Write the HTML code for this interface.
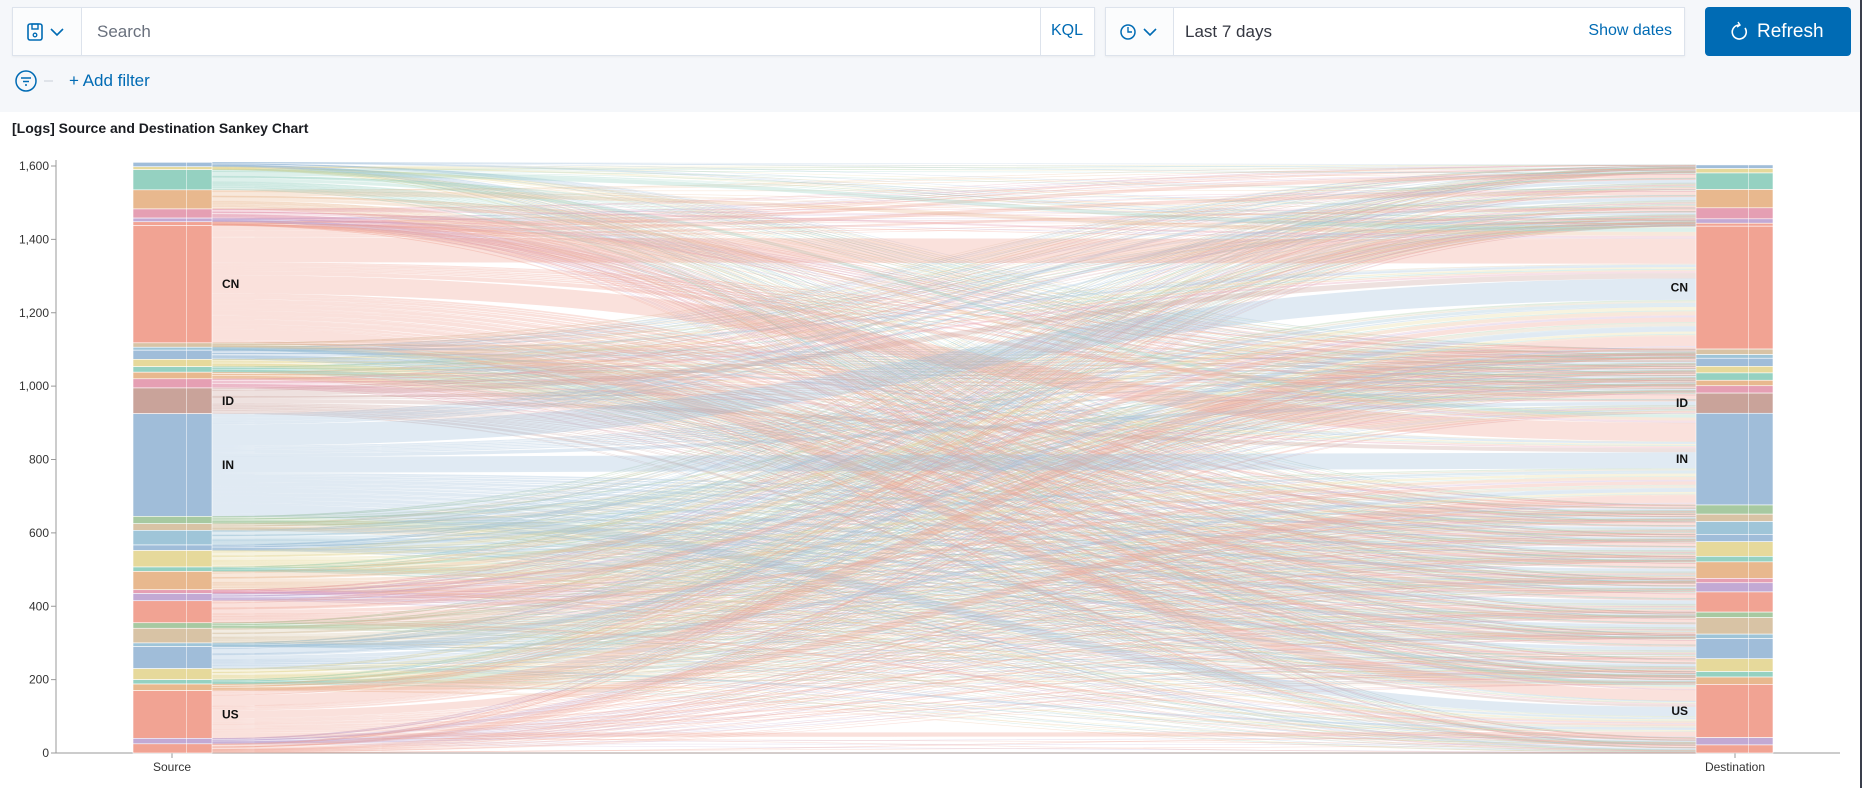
<!DOCTYPE html>
<html><head><meta charset="utf-8">
<style>
html,body{margin:0;padding:0;width:1862px;height:788px;overflow:hidden;background:#fff;font-family:"Liberation Sans",sans-serif}
.top{position:absolute;left:0;top:0;width:1862px;height:112px;background:#f5f7fa}
.box{position:absolute;background:#fff;border:1px solid #dde3ec;box-sizing:border-box;box-shadow:0 1px 2px rgba(0,0,0,.05)}
.t{position:absolute;white-space:nowrap}
</style></head><body>
<div class="top"></div>
<div class="box" style="left:12px;top:7px;width:1083px;height:49px">
  <div style="position:absolute;left:0;top:0;width:68px;height:47px;border-right:1px solid #dde3ec;background:#fbfcfd">
    <svg width="68" height="47"><rect x="15" y="16" width="14" height="16" rx="2" fill="none" stroke="#006bb4" stroke-width="1.6"/><rect x="19" y="16" width="6" height="5" fill="none" stroke="#006bb4" stroke-width="1.4"/><circle cx="22" cy="27" r="1.8" fill="none" stroke="#006bb4" stroke-width="1.3"/><path d="M38 21 L44 27 L50 21" fill="none" stroke="#006bb4" stroke-width="1.6"/></svg>
  </div>
  <div class="t" style="left:84px;top:14px;font-size:17px;color:#69707d">Search</div>
  <div style="position:absolute;left:1027px;top:0;width:1px;height:47px;background:#dde3ec"></div>
  <div class="t" style="left:1038px;top:14px;font-size:16px;color:#006bb4">KQL</div>
</div>
<div class="box" style="left:1105px;top:7px;width:580px;height:49px">
  <div style="position:absolute;left:0;top:0;width:67px;height:47px;border-right:1px solid #dde3ec;background:#fbfcfd">
    <svg width="67" height="47"><circle cx="22" cy="24" r="7" fill="none" stroke="#006bb4" stroke-width="1.5"/><path d="M22 19 V24 H26" fill="none" stroke="#006bb4" stroke-width="1.4"/><path d="M38 21 L44 27 L50 21" fill="none" stroke="#006bb4" stroke-width="1.6"/></svg>
  </div>
  <div class="t" style="left:79px;top:14px;font-size:17px;color:#343741">Last 7 days</div>
  <div class="t" style="right:12px;top:14px;font-size:16px;color:#006bb4">Show dates</div>
</div>
<div style="position:absolute;left:1705px;top:7px;width:146px;height:49px;background:#006bb4;border-radius:4px">
  <svg width="40" height="49" style="position:absolute;left:18px;top:0"><path d="M16 18 A7 7 0 1 0 22 21" fill="none" stroke="#fff" stroke-width="1.6"/><path d="M15 15 L17 18 L14 20" fill="none" stroke="#fff" stroke-width="1.4"/></svg>
  <div class="t" style="left:52px;top:14px;font-size:19px;color:#fff">Refresh</div>
</div>
<svg style="position:absolute;left:14px;top:69px" width="40" height="24"><circle cx="12" cy="12" r="10" fill="none" stroke="#006bb4" stroke-width="1.5"/><path d="M7 9H17M9 12.5H15M11 16H13" stroke="#006bb4" stroke-width="1.5"/><path d="M30 12H39" stroke="#c9cfd8" stroke-width="1"/></svg>
<div class="t" style="left:69px;top:71px;font-size:17px;color:#006bb4">+ Add filter</div>
<div class="t" style="left:12px;top:120px;font-size:14px;font-weight:bold;color:#1a1c21">[Logs] Source and Destination Sankey Chart</div>
<div style="position:absolute;left:1860px;top:0;width:2px;height:788px;background:#3a3f4c"></div>
<svg id="chart" style="position:absolute;left:0;top:0" width="1862" height="788"></svg>
<script>
const countries=["AR","AU","BD","BR","CA","CH","CL","CN","CO","CZ","DE","EG","ES","FR","GB","ID","IN","IR","IT","JP","KR","MX","MY","NG","NL","PH","PK","PL","RU","SA","TH","TR","TW","UA","US","VN","ZA"];
const sourceValues=[12,8,55,52,25,10,10,320,12,8,25,20,15,18,25,70,280,20,18,40,15,45,12,50,10,20,60,15,40,10,60,30,12,18,130,15,25];
const destValues=[10,12,45,50,30,12,8,335,15,10,22,18,20,15,20,55,250,25,20,35,20,40,15,45,12,25,55,15,45,12,55,35,15,20,145,20,22];
const yTicks=[0,200,400,600,800,1000,1200,1400,1600];
const labeled=["CN","ID","IN","US"];
const palette={CN:"#f1a393",US:"#f1a393",IN:"#a0bdd9",ID:"#c9a39a"};
const cyc=["#a0bdd9","#e6d99b","#95d1c1","#e8b88e","#e59fb3","#c2a9d4","#f1a393","#a7c9a1","#d8c3a5","#9fc5d8"];
const NS="http://www.w3.org/2000/svg";
const svg=document.getElementById("chart");
const Y0=753,Y1600=166,XA=56,XR=1840;
const y=v=>Y0-(v/1600)*(Y0-Y1600);
const k=(Y0-Y1600)/1600;
const SX0=133,SX1=212,DX0=1696,DX1=1773;
function mk(t,a){const e=document.createElementNS(NS,t);for(const n in a)e.setAttribute(n,a[n]);svg.appendChild(e);return e;}
const color=i=>palette[countries[i]]||cyc[i%cyc.length];
const ax=mk("line",{x1:XA,y1:Y1600-6,x2:XA,y2:Y0,stroke:"#999","stroke-width":1});


const bx=mk("line",{x1:XA,y1:Y0,x2:XR,y2:Y0,stroke:"#999","stroke-width":1});


yTicks.forEach(v=>{
  mk("line",{x1:XA-5,y1:y(v),x2:XA,y2:y(v),stroke:"#999"});
  const t=mk("text",{x:XA-7,y:y(v)+4,"text-anchor":"end","font-size":12,fill:"#333","font-family":"Liberation Sans"});
  t.textContent=v.toLocaleString("en-US");
  
  
});
[[172,"Source"],[1735,"Destination"]].forEach(([x,s])=>{
  mk("line",{x1:x,y1:Y0,x2:x,y2:Y0+5,stroke:"#999"});
  const t=mk("text",{x:x,y:Y0+18,"text-anchor":"middle","font-size":12,fill:"#333","font-family":"Liberation Sans"});
  t.textContent=s;
  
  
});
const sTot=sourceValues.reduce((a,b)=>a+b,0), dTot=destValues.reduce((a,b)=>a+b,0);
const sTop=[],dTop=[];
let acc=sTot;sourceValues.forEach((v,i)=>{sTop[i]=y(acc);acc-=v;});
acc=dTot;destValues.forEach((v,i)=>{dTop[i]=y(acc);acc-=v;});
const sOff=sTop.slice(),dOff=dTop.slice();
const links=[];
sourceValues.forEach((sv,i)=>{destValues.forEach((dv,j)=>{links.push({i,j,v:sv*dv/dTot});});});
links.forEach(l=>{l.w=l.v*k;l.sy=sOff[l.i]+l.w/2;sOff[l.i]+=l.w;});
const inflow=destValues.map((dv,j)=>sourceValues.reduce((a,s)=>a+s*dv/dTot,0));
links.forEach(l=>{l.dw=l.v*(destValues[l.j]/inflow[l.j])*k;});
links.forEach(l=>{l.ty=dOff[l.j]+l.dw/2;dOff[l.j]+=l.dw;});
const g=mk("g",{});
links.sort((a,b)=>a.w-b.w).forEach(l=>{
  const mx=(SX1+DX0)/2;
  const p=document.createElementNS(NS,"path");
  p.setAttribute("d",`M${SX1},${l.sy}C${mx},${l.sy} ${mx},${l.ty} ${DX0},${l.ty}`);
  p.setAttribute("fill","none");
  p.setAttribute("stroke",color(l.i));
  p.setAttribute("stroke-opacity",0.32);
  p.setAttribute("stroke-width",Math.max(0.6,(l.w+l.dw)/2));
  
  
  g.appendChild(p);
});
function nodes(vals,tops,x0,x1,side){
  vals.forEach((v,i)=>{
    const r=mk("rect",{x:x0,y:tops[i],width:x1-x0,height:v*k,fill:color(i),stroke:"#fff","stroke-width":0.6});
    
    
    if(labeled.includes(countries[i])){
      const t=mk("text",{x:side==="source"?x1+10:x0-8,y:tops[i]+v*k/2+4,"text-anchor":side==="source"?"start":"end","font-size":12,"font-weight":"bold",fill:"#111","font-family":"Liberation Sans"});
      t.textContent=countries[i];
      
      
    }
  });
  mk("line",{x1:(x0+x1)/2+14,y1:tops[0],x2:(x0+x1)/2+14,y2:Y0,stroke:"#fff","stroke-opacity":0.5});
}
nodes(sourceValues,sTop,SX0,SX1,"source");
nodes(destValues,dTop,DX0,DX1,"destination");
</script>
</body></html>
